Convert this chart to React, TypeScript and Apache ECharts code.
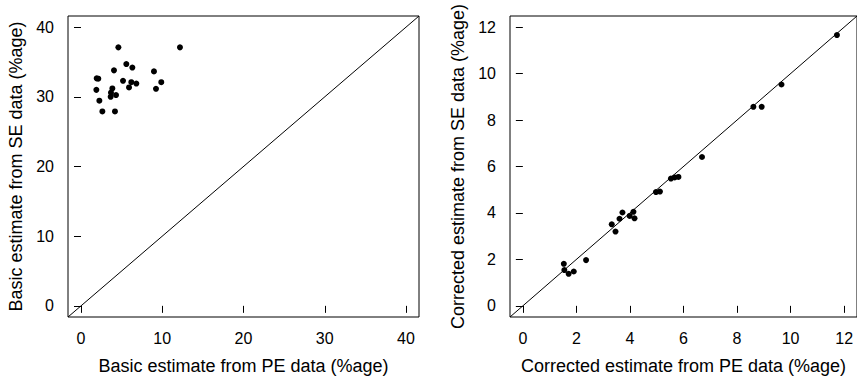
import React, { useEffect, useRef } from "react";
import * as echarts from "echarts";

// Left panel: basic estimates (%age)
const basicPE = [1.89, 1.93, 2.13, 2.26, 2.63, 4.6, 4.06, 3.86, 3.69, 3.65, 4.31, 4.18, 5.17, 5.58, 6.32, 6.19, 5.91, 6.81, 8.98, 9.23, 9.88, 12.18];
const basicSE = [31.0, 32.65, 32.6, 29.45, 27.9, 37.1, 33.8, 31.2, 30.6, 30.0, 30.25, 27.9, 32.3, 34.7, 34.2, 32.1, 31.35, 31.9, 33.65, 31.15, 32.1, 37.1];

// Right panel: corrected estimates (%age)
const corrPE = [11.73, 8.61, 8.92, 9.66, 6.69, 5.53, 5.67, 5.81, 4.97, 5.12, 3.32, 3.46, 3.61, 3.72, 3.99, 4.13, 4.17, 1.53, 1.55, 1.71, 1.9, 2.36];
const corrSE = [11.66, 8.57, 8.57, 9.53, 6.41, 5.48, 5.53, 5.55, 4.9, 4.92, 3.51, 3.2, 3.75, 4.02, 3.87, 4.05, 3.77, 1.81, 1.54, 1.38, 1.48, 1.97];

const leftTicks = [0, 10, 20, 30, 40];
const rightTicks = [0, 2, 4, 6, 8, 10, 12];
const leftLim = [0, 40];
const rightLim = [0, 12];

const FONT = "Liberation Sans, Arial, Helvetica, sans-serif";

function ext(lim: number[]) {
  const d = (lim[1] - lim[0]) * 0.04;
  return [lim[0] - d, lim[1] + d];
}

function axis(gridIndex: number, lim: number[], ticks: number[], name: string, isX: boolean) {
  const [mn, mx] = ext(lim);
  return {
    type: "value",
    gridIndex,
    min: mn,
    max: mx,
    name,
    nameLocation: "middle",
    nameGap: isX ? 40 : 43,
    nameRotate: isX ? 0 : 90,
    nameTextStyle: { fontFamily: FONT, fontSize: 18, color: "#000" },
    axisLine: { show: false },
    splitLine: { show: false },
    axisTick: {
      show: true,
      inside: false,
      length: 7,
      customValues: ticks,
      lineStyle: { color: "#000", width: 1 },
    },
    axisLabel: {
      show: true,
      customValues: ticks,
      margin: isX ? 13 : 14,
      fontFamily: FONT,
      fontSize: 16,
      color: "#000",
    },
  };
}

export default function App() {
  const ref = useRef<HTMLDivElement>(null);
  useEffect(() => {
    if (!ref.current) return;
    const chart = echarts.init(ref.current, null, { renderer: "svg" });
    const le = ext(leftLim);
    const re = ext(rightLim);
    chart.setOption({
      animation: false,
      backgroundColor: "#fff",
      grid: [
        { left: 68, top: 16, width: 351, height: 301, show: true, borderColor: "#000", borderWidth: 1, backgroundColor: "transparent" },
        { left: 510, top: 16, width: 351, height: 301, show: true, borderColor: "#000", borderWidth: 1, backgroundColor: "transparent" },
      ],
      xAxis: [
        axis(0, leftLim, leftTicks, "Basic estimate from PE data (%age)", true),
        axis(1, rightLim, rightTicks, "Corrected estimate from PE data (%age)", true),
      ],
      yAxis: [
        axis(0, leftLim, leftTicks, "Basic estimate from SE data (%age)", false),
        axis(1, rightLim, rightTicks, "Corrected estimate from SE data (%age)", false),
      ],
      series: [
        {
          type: "line",
          xAxisIndex: 0,
          yAxisIndex: 0,
          data: [[le[0], le[0]], [le[1], le[1]]],
          symbol: "none",
          lineStyle: { color: "#000", width: 1 },
          silent: true,
        },
        {
          type: "line",
          xAxisIndex: 1,
          yAxisIndex: 1,
          data: [[re[0], re[0]], [re[1], re[1]]],
          symbol: "none",
          lineStyle: { color: "#000", width: 1 },
          silent: true,
        },
        {
          type: "scatter",
          xAxisIndex: 0,
          yAxisIndex: 0,
          data: basicPE.map((x, i) => [x, basicSE[i]]),
          symbol: "circle",
          symbolSize: 6,
          itemStyle: { color: "#000", opacity: 1 },
        },
        {
          type: "scatter",
          xAxisIndex: 1,
          yAxisIndex: 1,
          data: corrPE.map((x, i) => [x, corrSE[i]]),
          symbol: "circle",
          symbolSize: 6,
          itemStyle: { color: "#000", opacity: 1 },
        },
      ],
    });
    return () => chart.dispose();
  }, []);
  return (
    <div
      ref={ref}
      style={{ position: "fixed", left: 0, top: 0, width: 857, height: 380, background: "#fff" }}
    />
  );
}
